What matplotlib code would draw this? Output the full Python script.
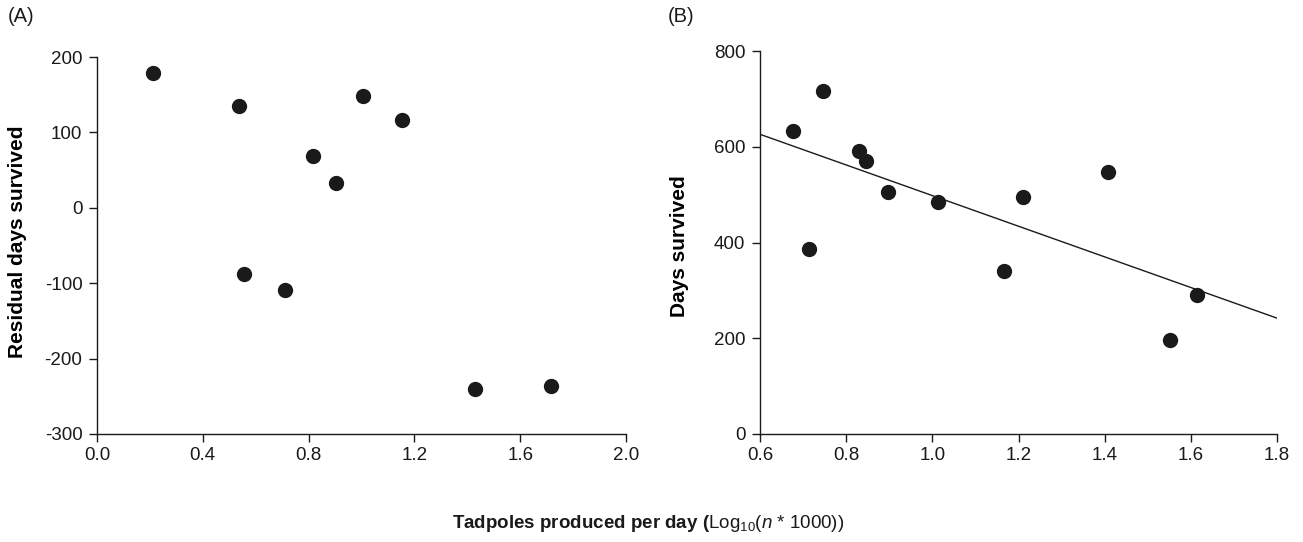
import matplotlib
matplotlib.use("Agg")
import matplotlib.pyplot as plt
import numpy as np

plt.rcParams['font.family'] = ['Liberation Sans', 'DejaVu Sans']
plt.rcParams['mathtext.fontset'] = 'custom'
plt.rcParams['mathtext.rm'] = 'Liberation Sans'
plt.rcParams['mathtext.bf'] = 'Liberation Sans:bold'
plt.rcParams['mathtext.it'] = 'Liberation Sans:italic'

# Panel A: residual days survived
a_x = [0.212, 0.537, 0.556, 0.711, 0.817, 0.904, 1.006, 1.153, 1.429, 1.716]
a_y = [179, 135, -88, -109, 69, 33, 148, 117, -240, -236]

# Panel B: days survived
b_x = [0.676, 0.713, 0.747, 0.830, 0.845, 0.898, 1.014, 1.167, 1.210, 1.408, 1.551, 1.614]
b_y = [632, 386, 716, 592, 571, 506, 485, 341, 495, 548, 197, 291]

# fitted line in panel B
fit_slope = -320.0
fit_intercept = 818.0
fit_x = [0.6, 1.8]

a_xticks = [0.0, 0.4, 0.8, 1.2, 1.6, 2.0]
a_yticks = [-300, -200, -100, 0, 100, 200]
b_xticks = [0.6, 0.8, 1.0, 1.2, 1.4, 1.6, 1.8]
b_yticks = [0, 200, 400, 600, 800]

W, H = 1303, 542
fig = plt.figure(figsize=(W / 100, H / 100), dpi=100)

def px_axes(l, r, t, b):
    return fig.add_axes([l / W, 1 - b / H, (r - l) / W, (b - t) / H])

axA = px_axes(97, 626, 57, 434)
axB = px_axes(760, 1277, 51, 434)

col = '#1a1a1a'
for ax in (axA, axB):
    for s in ('top', 'right'):
        ax.spines[s].set_visible(False)
    for s in ('left', 'bottom'):
        ax.spines[s].set_linewidth(1.0)
        ax.spines[s].set_color(col)
    ax.tick_params(direction='out', length=5.5, width=1.0, colors=col,
                   labelsize=13.5)
    ax.tick_params(axis='y', pad=5)
    ax.tick_params(axis='x', pad=4)

axA.plot(a_x, a_y, 'o', color=col, markersize=10, clip_on=False)
axA.set_xlim(0.0, 2.0)
axA.set_ylim(-300, 200)
axA.set_xticks(a_xticks)
axA.set_xticklabels([f"{v:.1f}" for v in a_xticks])
axA.set_yticks(a_yticks)
axA.set_yticklabels([str(v) for v in a_yticks])
axA.set_ylabel('Residual days survived', fontsize=15, fontweight='bold')
axA.yaxis.set_label_coords((27 - 97) / 529, 0.51)

fit_y = [fit_intercept + fit_slope * v for v in fit_x]
axB.plot(fit_x, fit_y, '-', color=col, linewidth=1.0)
axB.plot(b_x, b_y, 'o', color=col, markersize=10, clip_on=False)
axB.set_xlim(0.6, 1.8)
axB.set_ylim(0, 800)
axB.set_xticks(b_xticks)
axB.set_xticklabels([f"{v:.1f}" for v in b_xticks])
axB.set_yticks(b_yticks)
axB.set_yticklabels([str(v) for v in b_yticks])
axB.set_ylabel('Days survived', fontsize=15, fontweight='bold')
axB.yaxis.set_label_coords((689 - 760) / 517, 0.49)

fig.text(8 / W, 1 - 17 / H, '(A)', fontsize=14.5, ha='left', va='center', color=col)
fig.text(668 / W, 1 - 17 / H, '(B)', fontsize=14.5, ha='left', va='center', color=col)

fig.text(648 / W, 1 - 524 / H,
         r'$\mathbf{Tadpoles\ produced\ per\ day\ (}$Log$_{10}$($\mathit{n}$ * 1000))',
         fontsize=13.5, ha='center', va='center', color=col)

fig.savefig('out.png', dpi=100)
